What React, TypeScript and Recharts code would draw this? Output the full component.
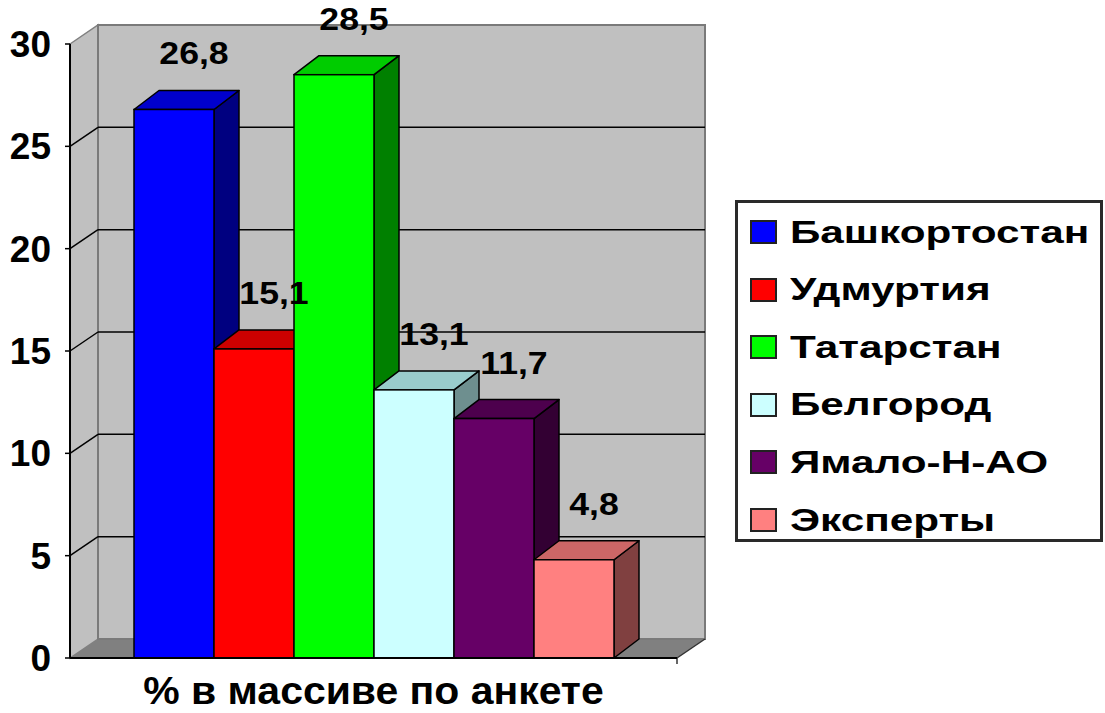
import React from 'react';
import { BarChart, Bar, XAxis, YAxis, ReferenceArea, ReferenceLine, LabelList } from 'recharts';

const categories = ['% в массиве по анкете'];
const seriesNames = ['Башкортостан', 'Удмуртия', 'Татарстан', 'Белгород', 'Ямало-Н-АО', 'Эксперты'];
const seriesValues = [26.8, 15.1, 28.5, 13.1, 11.7, 4.8];
const yTicks = [0, 5, 10, 15, 20, 25, 30];
const gridValues = [5, 10, 15, 20, 25];

const frontColors = ['#0000FF', '#FF0000', '#00FF00', '#CCFFFF', '#660066', '#FF8080'];
const topColors = ['#0000CC', '#CC0000', '#00CC00', '#99CCCC', '#4D004D', '#CC6666'];
const sideColors = ['#000080', '#800000', '#008000', '#6E8F8F', '#330033', '#804040'];

const FONT = '"Liberation Sans", Arial, sans-serif';
const WX = 28;
const WY = -19;
const BX = 25;
const BY = -19;

const data = categories.map((c) => {
  const row: Record<string, any> = { cat: c };
  seriesNames.forEach((n, i) => {
    row[n] = seriesValues[i];
  });
  return row;
});

const makeShape = (i: number) => (props: any) => {
  const { x, y, width, height } = props;
  if (x == null || y == null) return <g />;
  const x2 = x + width;
  const yb = y + height;
  return (
    <g>
      <polygon
        points={`${x2},${y} ${x2 + BX},${y + BY} ${x2 + BX},${yb + BY} ${x2},${yb}`}
        fill={sideColors[i]}
        stroke="#000"
        strokeWidth={1.5}
        strokeLinejoin="round"
      />
      <polygon
        points={`${x},${y} ${x + BX},${y + BY} ${x2 + BX},${y + BY} ${x2},${y}`}
        fill={topColors[i]}
        stroke="#000"
        strokeWidth={1.5}
        strokeLinejoin="round"
      />
      <rect x={x} y={y} width={width} height={height} fill={frontColors[i]} stroke="#000" strokeWidth={1.5} />
    </g>
  );
};

const WallShape = (props: any) => {
  const { x, y, width, height } = props;
  if (x == null) return <g />;
  const w = width;
  const h = height;
  const yb = y + h;
  return (
    <g>
      <polygon
        points={`${x},${yb} ${x + w},${yb} ${x + w + WX},${yb + WY} ${x + WX},${yb + WY}`}
        fill="#808080"
      />
      <polygon
        points={`${x},${y} ${x + WX},${y + WY} ${x + WX},${yb + WY} ${x},${yb}`}
        fill="#C0C0C0"
        stroke="#808080"
        strokeWidth={1.5}
      />
      <rect x={x + WX} y={y + WY} width={w} height={h} fill="#C0C0C0" stroke="#7A7A7A" strokeWidth={2} />
      <line x1={x + w} y1={yb} x2={x + w + WX} y2={yb + WY} stroke="#333" strokeWidth={1.5} />
      <line x1={x + w} y1={yb} x2={x + w} y2={yb + 6} stroke="#333" strokeWidth={1.5} />
    </g>
  );
};

const GridShape = (props: any) => {
  const { x1, y1, x2, y2 } = props;
  if (x1 == null) return <g />;
  return (
    <g>
      <line x1={x1} y1={y1} x2={x1 + WX} y2={y1 + WY} stroke="#000" strokeWidth={1.5} />
      <line x1={x1 + WX} y1={y1 + WY} x2={x2 + WX} y2={y2 + WY} stroke="#000" strokeWidth={1.5} />
    </g>
  );
};

const CatTick = (props: any) => {
  const { x, y, payload } = props;
  return (
    <text
      transform={`translate(${x},${y + 38}) scale(1.05,1)`}
      x={0}
      y={0}
      textAnchor="middle"
      fontFamily={FONT}
      fontWeight="bold"
      fontSize={39}
      fill="#000"
    >
      {payload.value}
    </text>
  );
};

const YTick = (props: any) => {
  const { x, y, payload } = props;
  return (
    <text x={x - 12} y={y + 13} textAnchor="end" fontFamily={FONT} fontWeight="bold" fontSize={37} fill="#000">
      {payload.value}
    </text>
  );
};

const makeLabel = () => (props: any) => {
  const { x, y, width, value } = props;
  if (x == null) return null;
  return (
    <text
      transform={`translate(${x + width / 2 + 20},${y - 45}) scale(1.15,1)`}
      x={0}
      y={0}
      textAnchor="middle"
      fontFamily={FONT}
      fontWeight="bold"
      fontSize={31}
      fill="#000"
    >
      {String(value).replace('.', ',')}
    </text>
  );
};

export default function App() {
  return (
    <div style={{ position: 'absolute', left: 0, top: 0, width: 1105, height: 713, background: '#fff' }}>
      <BarChart
        width={1105}
        height={713}
        data={data}
        margin={{ top: 44, right: 428, bottom: 0, left: 0 }}
        barGap={0}
        barSize={80}
      >
        <XAxis
          dataKey="cat"
          height={55}
          tickLine={false}
          axisLine={{ stroke: '#000', strokeWidth: 2 }}
          tick={<CatTick />}
          interval={0}
        />
        <YAxis
          width={70}
          domain={[0, 30]}
          ticks={yTicks}
          interval={0}
          tickSize={5}
          tickLine={{ stroke: '#000', strokeWidth: 1.5 }}
          axisLine={{ stroke: '#000', strokeWidth: 2 }}
          tick={<YTick />}
        />
        <ReferenceArea y1={0} y2={30} shape={<WallShape />} zIndex={-300} ifOverflow="visible" />
        {gridValues.map((v) => (
          <ReferenceLine key={v} y={v} shape={<GridShape />} zIndex={-200} />
        ))}
        {seriesNames.map((n, i) => (
          <Bar key={n} dataKey={n} isAnimationActive={false} shape={makeShape(i)}>
            <LabelList dataKey={n} content={makeLabel()} />
          </Bar>
        ))}
      </BarChart>
      <div
        style={{
          position: 'absolute',
          left: 735,
          top: 200,
          width: 362,
          height: 336,
          border: '3px solid #2a2a2a',
          background: '#fff',
          fontFamily: FONT,
          fontWeight: 'bold',
          fontSize: 32,
          boxSizing: 'content-box',
        }}
      >
        {seriesNames.map((n, i) => (
          <div
            key={n}
            style={{
              position: 'absolute',
              left: 12,
              top: 9 + i * 57.6,
              height: 40,
              display: 'flex',
              alignItems: 'center',
              whiteSpace: 'nowrap',
            }}
          >
            <span
              style={{
                display: 'inline-block',
                width: 23,
                height: 20,
                background: frontColors[i],
                border: '2px solid #222',
                marginRight: 13,
                flex: 'none',
              }}
            />
            <span style={{ display: 'inline-block', transform: 'scaleX(1.32)', transformOrigin: 'left center' }}>{n}</span>
          </div>
        ))}
      </div>
    </div>
  );
}
